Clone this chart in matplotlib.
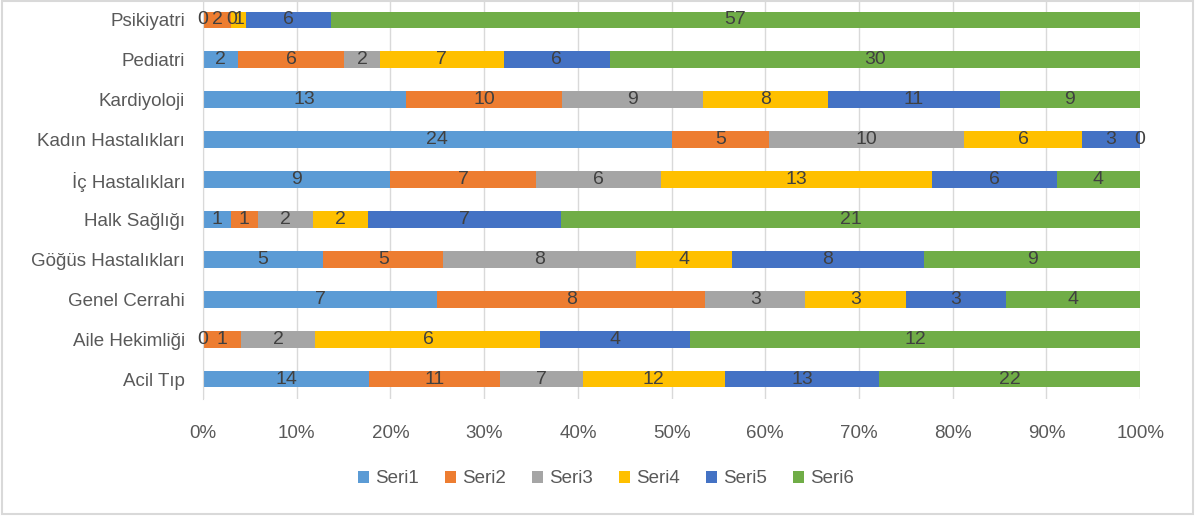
import numpy as np
import matplotlib.pyplot as plt
from matplotlib.patches import Rectangle

categories = ['Acil Tıp', 'Aile Hekimliği', 'Genel Cerrahi', 'Göğüs Hastalıkları',
              'Halk Sağlığı', 'İç Hastalıkları', 'Kadın Hastalıkları', 'Kardiyoloji',
              'Pediatri', 'Psikiyatri']
seri1 = [14, 0, 7, 5, 1, 9, 24, 13, 2, 0]
seri2 = [11, 1, 8, 5, 1, 7, 5, 10, 6, 2]
seri3 = [7, 2, 3, 8, 2, 6, 10, 9, 2, 0]
seri4 = [12, 6, 3, 4, 2, 13, 6, 8, 7, 1]
seri5 = [13, 4, 3, 8, 7, 6, 3, 11, 6, 6]
seri6 = [22, 12, 4, 9, 21, 4, 0, 9, 30, 57]
names = ['Seri1', 'Seri2', 'Seri3', 'Seri4', 'Seri5', 'Seri6']
colors = ['#5B9BD5', '#ED7D31', '#A5A5A5', '#FFC000', '#4472C4', '#70AD47']

plt.rcParams['font.family'] = ['Liberation Sans', 'DejaVu Sans']

data = np.array([seri1, seri2, seri3, seri4, seri5, seri6], dtype=float)
totals = data.sum(axis=0)
shares = data / totals

fig = plt.figure(figsize=(11.95, 5.16), dpi=100)
ax = fig.add_axes([0.1699, 0.2267, 0.7842, 0.7733])
y = np.arange(len(categories))
left = np.zeros(len(categories))
for i in range(6):
    ax.barh(y, shares[i], left=left, height=0.42, color=colors[i], label=names[i], zorder=2)
    for j in range(len(categories)):
        ax.text(left[j] + shares[i][j] / 2, y[j], '%d' % data[i][j], ha='center', va='center',
                fontsize=14, color='#404040', zorder=3)
    left += shares[i]

ax.set_xlim(0, 1)
ax.set_ylim(-0.5, 9.5)
ax.set_xticks(np.arange(0, 1.01, 0.1))
ax.set_xticklabels(['%d%%' % v for v in range(0, 101, 10)])
ax.set_yticks(y)
ax.set_yticklabels(categories)
ax.tick_params(axis='both', length=0, labelsize=13.5, labelcolor='#595959')
ax.tick_params(axis='x', pad=19)
ax.tick_params(axis='y', pad=13)
ax.grid(axis='x', color='#D9D9D9', linewidth=1, zorder=0)
for s in ['top', 'right', 'bottom']:
    ax.spines[s].set_visible(False)
ax.spines['left'].set_color('#D9D9D9')

handles, labels = ax.get_legend_handles_labels()
fig.legend(handles, labels, loc='center', bbox_to_anchor=(0.507, 0.072), ncol=6,
           frameon=False, fontsize=13.5, labelcolor='#595959', handlelength=0.6,
           handleheight=0.6, handletextpad=0.3, columnspacing=1.4)

fig.patches.append(Rectangle((0.002, 0.004), 0.996, 0.994, transform=fig.transFigure,
                             fill=False, edgecolor='#D9D9D9', linewidth=1.5))

fig.savefig('out.png', dpi=100)
